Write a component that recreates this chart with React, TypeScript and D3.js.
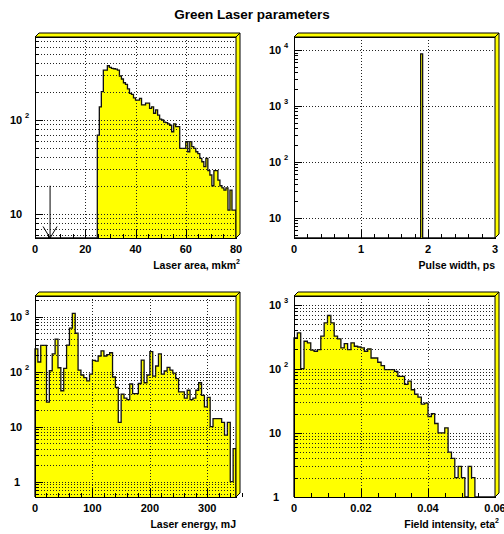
import React from 'react';
import * as d3 from 'd3';

// ---- histogram contents ----
// Laser area, 100 bins over [0, 80]
const areaCounts = [
  0, 0, 0, 0, 0, 0, 0, 0, 0, 0,
  0, 0, 0, 0, 0, 0, 0, 0, 0, 0,
  0, 0, 0, 0, 0, 0, 0, 0, 0, 0,
  0, 69, 138, 200, 340, 340, 378, 363, 355, 351,
  347, 340, 294, 273, 249, 240, 214, 192, 187, 172,
  163, 163, 170, 145, 145, 151, 151, 133, 138, 118,
  128, 113, 102, 100, 95, 94, 91, 88, 75, 91,
  85, 85, 50, 50, 50, 59, 46, 59, 52, 50,
  46, 44, 39, 36, 32, 39, 29, 26, 20, 29,
  29, 23, 20, 19, 18, 19, 11, 18, 11, 11,
];
const areaRange: [number, number] = [0, 80];

// Pulse width, 100 bins over [0, 3]; only one bin is filled
const pulseBinCount = 100;
const pulseFilledBins = [{ bin: 63, count: 8500 }];
const pulseRange: [number, number] = [0, 3];

// Laser energy, 70 bins over [0, 350]
const energyCounts = [
  260, 150, 300, 300, 28, 104, 210, 390, 118, 45,
  115, 305, 620, 1150, 500, 107, 87, 78, 68, 90,
  160, 155, 193, 240, 193, 205, 221, 80, 52, 12,
  39, 33, 31, 60, 40, 40, 61, 162, 63, 87,
  231, 83, 127, 210, 90, 103, 120, 107, 94, 75,
  43, 43, 33, 46, 31, 33, 46, 63, 37, 23,
  34, 10, 14, 14, 14, 12, 7, 12, 1, 4,
];
const energyRange: [number, number] = [0, 350];

// Field intensity, 60 bins over [0, 0.06]
const fieldCounts = [
  303, 363, 100, 268, 253, 195, 187, 199, 321, 519,
  675, 519, 321, 292, 212, 246, 199, 253, 224, 218,
  212, 187, 204, 147, 147, 126, 112, 97, 97, 97,
  91, 76, 76, 57, 64, 47, 40, 36, 28, 29,
  18, 20, 14, 10, 10, 12, 5, 4, 2, 3,
  2, 0, 3, 2, 0, 0, 0, 0, 0, 0,
];
const fieldRange: [number, number] = [0, 0.06];

// ---- axis ticks and labels ----
const areaTicks = [0, 20, 40, 60, 80];
const areaTickLabels = ['0', '20', '40', '60', '80'];
const pulseTicks = [0, 1, 2, 3];
const pulseTickLabels = ['0', '1', '2', '3'];
const energyTicks = [0, 100, 200, 300];
const energyTickLabels = ['0', '100', '200', '300'];
const fieldTicks = [0, 0.02, 0.04, 0.06];
const fieldTickLabels = ['0', '0.02', '0.04', '0.06'];

const mainTitle = 'Green Laser parameters';

// cut marker on the area plot
const areaCut = { x: 6, top: 20 };

const FONT = "'Liberation Sans', Arial, Helvetica, sans-serif";
const YELLOW = '#ffff00';

type PanelProps = {
  x0: number; x1: number; y0: number; y1: number;
  xDomain: [number, number];
  yDomain: [number, number];
  counts: number[];
  xTicks: number[];
  xTickLabels: string[];
  xMinorStep: number;
  minorGrid: boolean;
  xTitle: string;
  xTitleSup?: string;
  arrow?: { x: number; top: number };
};

function Panel(p: PanelProps) {
  const { x0, x1, y0, y1, counts } = p;
  const x = d3.scaleLinear().domain(p.xDomain).range([x0, x1]);
  const y = d3.scaleLog().domain(p.yDomain).range([y1, y0]);
  const yPos = (v: number) => (v > 0 ? Math.max(y0, Math.min(y1, y(v))) : y1);

  const n = counts.length;
  const binW = (p.xDomain[1] - p.xDomain[0]) / n;
  const pts: [number, number][] = [[x(p.xDomain[0]), y1]];
  counts.forEach((c, i) => {
    const a = x(p.xDomain[0] + i * binW);
    const b = x(p.xDomain[0] + (i + 1) * binW);
    pts.push([a, yPos(c)], [b, yPos(c)]);
  });
  pts.push([x(p.xDomain[1]), y1]);
  const line = d3.line();
  const outline = line(pts) as string;

  // horizontal grid & y ticks
  const kMin = Math.floor(Math.log10(p.yDomain[0]));
  const kMax = Math.ceil(Math.log10(p.yDomain[1]));
  const logVals: { v: number; major: boolean; k: number }[] = [];
  for (let k = kMin; k <= kMax; k++) {
    for (let m = 1; m <= 9; m++) {
      const v = m * Math.pow(10, k);
      if (v >= p.yDomain[0] && v <= p.yDomain[1]) logVals.push({ v, major: m === 1, k });
    }
  }

  // x minor ticks
  const minors: number[] = [];
  const nMinor = Math.round((p.xDomain[1] - p.xDomain[0]) / p.xMinorStep);
  for (let i = 0; i <= nMinor; i++) minors.push(p.xDomain[0] + i * p.xMinorStep);

  const d = 4;
  const gridStyle = { stroke: '#222', strokeWidth: 1, strokeDasharray: '1,2' };

  return (
    <g>
      <rect x={x0} y={y0} width={x1 - x0} height={y1 - y0} fill="#fff" />
      <path d={outline + 'Z'} fill={YELLOW} stroke="none" />
      <path d={outline} fill="none" stroke="#111" strokeWidth={1.3} />
      {/* grid */}
      {p.xTicks.filter((t) => t > p.xDomain[0] && t < p.xDomain[1]).map((t) => (
        <line key={'gx' + t} x1={Math.round(x(t)) + 0.5} x2={Math.round(x(t)) + 0.5} y1={y0} y2={y1} {...gridStyle} />
      ))}
      {logVals.filter((l) => p.minorGrid || l.major).map((l) => (
        <line key={'gy' + l.v} x1={x0} x2={x1} y1={Math.round(y(l.v)) + 0.5} y2={Math.round(y(l.v)) + 0.5} {...gridStyle} />
      ))}
      {/* y ticks */}
      {logVals.map((l) => (
        <line key={'ty' + l.v} x1={x0} x2={x0 + (l.major ? 8 : 4)} y1={Math.round(y(l.v)) + 0.5} y2={Math.round(y(l.v)) + 0.5} stroke="#000" strokeWidth={1} />
      ))}
      {/* x ticks */}
      {minors.map((t) => (
        <line key={'tx' + t} x1={Math.round(x(t)) + 0.5} x2={Math.round(x(t)) + 0.5} y1={y1} y2={y1 - 4} stroke="#000" strokeWidth={1} />
      ))}
      {p.xTicks.map((t) => (
        <line key={'TX' + t} x1={Math.round(x(t)) + 0.5} x2={Math.round(x(t)) + 0.5} y1={y1} y2={y1 - 8} stroke="#000" strokeWidth={1} />
      ))}
      {/* frame */}
      <rect x={x0 + 0.5} y={y0 + 0.5} width={x1 - x0} height={y1 - y0} fill="none" stroke="#000" strokeWidth={1} />
      <polygon points={`${x0},${y0} ${x0 + d},${y0 - d} ${x1 + d},${y0 - d} ${x1},${y0}`} fill={YELLOW} stroke="#000" strokeWidth={1} strokeLinejoin="round" />
      <polygon points={`${x1},${y0} ${x1 + d},${y0 - d} ${x1 + d},${y1 - d} ${x1},${y1}`} fill={YELLOW} stroke="#000" strokeWidth={1} strokeLinejoin="round" />
      {p.arrow && (
        <g stroke="#000" strokeWidth={1} fill="none">
          <line x1={x(p.arrow.x)} x2={x(p.arrow.x)} y1={y(p.arrow.top)} y2={y1} />
          <polyline points={`${x(p.arrow.x) - 7},${y1 - 11.5} ${x(p.arrow.x)},${y1} ${x(p.arrow.x) + 7},${y1 - 11.5}`} />
        </g>
      )}
      {/* y labels */}
      {logVals.filter((l) => l.major).map((l) => {
        const yy = y(l.v);
        if (l.k === 0) {
          return <text key={'ly' + l.v} x={x0 - 18} y={yy + 4} fontSize={11} textAnchor="middle">1</text>;
        }
        return (
          <g key={'ly' + l.v}>
            <text x={x0 - 25} y={yy + 4} fontSize={11}>10</text>
            {l.k > 1 && <text x={x0 - 10} y={yy - 2} fontSize={7.5}>{l.k}</text>}
          </g>
        );
      })}
      {/* x labels */}
      {p.xTicks.map((t, i) => (
        <text key={'lx' + t} x={x(t)} y={y1 + 15} fontSize={11} textAnchor="middle">{p.xTickLabels[i]}</text>
      ))}
      <text x={p.xTitleSup ? x1 + 4 : x1} y={y1 + 31} fontSize={10.5} textAnchor="end">
        {p.xTitle}
        {p.xTitleSup && <tspan fontSize={7} dy={-5}>{p.xTitleSup}</tspan>}
      </text>
    </g>
  );
}

export default function App() {
  const pulseCounts = Array.from({ length: pulseBinCount }, (_, i) => {
    const f = pulseFilledBins.find((b) => b.bin === i);
    return f ? f.count : 0;
  });
  return (
    <svg width={504} height={534} style={{ position: 'fixed', left: 0, top: 0, background: '#fff' }}
      fontFamily={FONT} fontWeight="bold">
      <rect width={504} height={534} fill="#fff" />
      <text x={252} y={19} fontSize={13.5} textAnchor="middle">{mainTitle}</text>
      <Panel x0={35} x1={236} y0={37} y1={238} xDomain={areaRange} yDomain={[5.56, 764]}
        counts={areaCounts} xTicks={areaTicks} xTickLabels={areaTickLabels} xMinorStep={5}
        minorGrid xTitle="Laser area, mkm" xTitleSup="2" arrow={areaCut} />
      <Panel x0={294} x1={495} y0={37} y1={238} xDomain={pulseRange} yDomain={[4.34, 17060]}
        counts={pulseCounts} xTicks={pulseTicks} xTickLabels={pulseTickLabels} xMinorStep={0.2}
        minorGrid={false} xTitle="Pulse width, ps" />
      <Panel x0={35} x1={236} y0={296} y1={497} xDomain={energyRange} yDomain={[0.527, 2377]}
        counts={energyCounts} xTicks={energyTicks} xTickLabels={energyTickLabels} xMinorStep={20}
        minorGrid xTitle="Laser energy, mJ" />
      <Panel x0={294} x1={495} y0={296} y1={497} xDomain={fieldRange} yDomain={[1, 1360]}
        counts={fieldCounts} xTicks={fieldTicks} xTickLabels={fieldTickLabels} xMinorStep={0.005}
        minorGrid xTitle="Field intensity, eta" xTitleSup="2" />
    </svg>
  );
}
